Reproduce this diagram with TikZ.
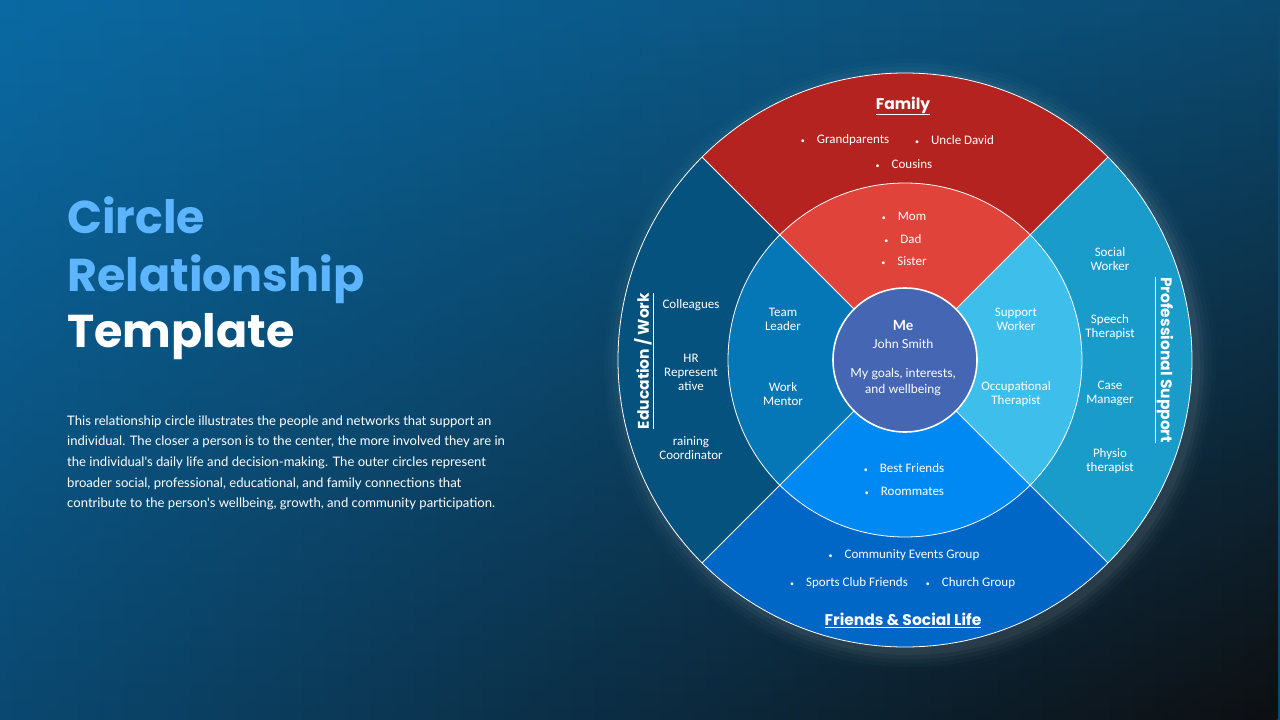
\documentclass[tikz,border=0pt]{standalone}
\usepackage{fontspec}
\setmainfont{Carlito}
\newfontfamily\lato{Lato}
\newfontfamily\pop{Poppins}
\usetikzlibrary{calc,fadings}
\definecolor{bgTL}{HTML}{0A6AA3}
\definecolor{bgTR}{HTML}{0B4A70}
\definecolor{bgBL}{HTML}{0B4870}
\definecolor{bgBR}{HTML}{0E0F11}
\definecolor{famO}{HTML}{B52320}
\definecolor{famI}{HTML}{E0433A}
\definecolor{proO}{HTML}{1A9CCB}
\definecolor{proI}{HTML}{3EBEEA}
\definecolor{friO}{HTML}{0067C7}
\definecolor{friI}{HTML}{0089F2}
\definecolor{eduO}{HTML}{05527F}
\definecolor{eduI}{HTML}{0677B6}
\definecolor{cen}{HTML}{4466B3}
\definecolor{ttl}{HTML}{5DB4FF}
\newcommand\bl{{\fontsize{8}{8}\selectfont\textbullet}\hspace{12pt}}
\begin{document}
\begin{tikzpicture}[x=1pt,y=1pt,
  item/.style={text=white,font=\fontsize{13}{14}\selectfont,align=center,inner sep=0pt},
  head/.style={text=white,font=\pop\bfseries\fontsize{15.5}{18}\selectfont,inner sep=0pt},
  ttlA/.style={text=ttl,font=\pop\bfseries\fontsize{46}{50}\selectfont,anchor=base west,inner sep=0pt},
  body/.style={text=white,font=\lato\fontsize{13.1}{15}\selectfont,anchor=base west,inner sep=0pt},
  sep/.style={draw=white,line width=0.8pt}]
\useasboundingbox (0,0) rectangle (1280,-720);
% background: bilinear gradient (top row, then bottom row faded in)
\shade[left color=bgTL,right color=bgTR] (0,0) rectangle (1280,-720);
\shade[left color=bgBL,right color=bgBR,path fading=north] (0,0) rectangle (1280,-720);
\coordinate (C) at (905,-360);
\def\Ro{287}\def\Ri{177}\def\Rc{72}
% soft halo
\foreach \r/\o in {306/0.012,302/0.018,298/0.025,294/0.035,290/0.045}
  \fill[white,opacity=\o] ($(C)+(5,-5)$) circle (\r);
% outer wedges
\fill[famO] (C) -- ++(45:\Ro) arc[start angle=45,end angle=135,radius=\Ro] -- cycle;
\fill[eduO] (C) -- ++(135:\Ro) arc[start angle=135,end angle=225,radius=\Ro] -- cycle;
\fill[friO] (C) -- ++(225:\Ro) arc[start angle=225,end angle=315,radius=\Ro] -- cycle;
\fill[proO] (C) -- ++(-45:\Ro) arc[start angle=-45,end angle=45,radius=\Ro] -- cycle;
% inner wedges
\fill[famI] (C) -- ++(45:\Ri) arc[start angle=45,end angle=135,radius=\Ri] -- cycle;
\fill[eduI] (C) -- ++(135:\Ri) arc[start angle=135,end angle=225,radius=\Ri] -- cycle;
\fill[friI] (C) -- ++(225:\Ri) arc[start angle=225,end angle=315,radius=\Ri] -- cycle;
\fill[proI] (C) -- ++(-45:\Ri) arc[start angle=-45,end angle=45,radius=\Ri] -- cycle;
% borders
\draw[sep] (C) circle (\Ro);
\draw[sep] (C) circle (\Ri);
\draw[sep] ($(C)+(45:\Ro)$) -- ($(C)+(225:\Ro)$);
\draw[sep] ($(C)+(135:\Ro)$) -- ($(C)+(-45:\Ro)$);
% center
\node[circle,fill=cen,draw=white,line width=1.6pt,minimum size=144pt,inner sep=0pt] (me) at (C) {};
\node[text=white,font=\lato\bfseries\fontsize{14}{16}\selectfont,inner sep=0pt] (meT) at (903,-325) {Me};
\node[text=white,font=\lato\fontsize{12.5}{16}\selectfont,inner sep=0pt] (meN) at (903,-344) {John Smith};
\node[text=white,font=\lato\fontsize{12.5}{16}\selectfont,align=center,inner sep=0pt] (meG) at (903,-382) {My goals, interests,\\and wellbeing};
% family
\node[head] (famH) at (903,-106) {\underline{Family}};
\node[item] (gp) at (845,-140) {\bl Grandparents};
\node[item] (ud) at (954.5,-140) {\bl Uncle David};
\node[item] (co) at (904,-164) {\bl Cousins};
\node[item] (mom) at (904,-216) {\bl Mom};
\node[item] (dad) at (903,-239) {\bl Dad};
\node[item] (sis) at (904,-261) {\bl Sister};
% education
\node[head,rotate=90] (eduH) at (644,-361) {\underline{Education / Work}};
\node[item] (col) at (691,-305) {Colleagues};
\node[item] (hr) at (691,-372) {HR\\Represent\\ative};
\node[item] (tr) at (691,-448) {raining\\Coordinator};
\node[item] (tl) at (783,-319) {Team\\Leader};
\node[item] (wm) at (783,-394) {Work\\Mentor};
% professional
\node[head,rotate=-90] (proH) at (1164,-360) {\underline{Professional Support}};
\node[item] (sw) at (1016,-319) {Support\\Worker};
\node[item] (ot) at (1016,-394) {Occupational\\Therapist};
\node[item] (sow) at (1110,-259) {Social\\Worker};
\node[item] (st) at (1110,-327) {Speech\\Therapist};
\node[item] (cm) at (1110,-393) {Case\\Manager};
\node[item] (pt) at (1110,-461) {Physio\\therapist};
% friends
\node[item] (bf) at (904,-468) {\bl Best Friends};
\node[item] (rm) at (904.5,-491) {\bl Roommates};
\node[item] (ceg) at (904,-555) {\bl Community Events Group};
\node[item] (scf) at (849,-583) {\bl Sports Club Friends};
\node[item] (cg) at (970.5,-583) {\bl Church Group};
\node[head] (friH) at (903,-620) {\underline{Friends \& Social Life}};
% title
\node[ttlA] (t1) at (67,-233) {Circle};
\node[ttlA] (t2) at (67,-291) {Relationship};
\node[ttlA,text=white] (t3) at (67,-347) {Template};
% body
\node[body] (b1) at (67,-425) {This relationship circle illustrates the people and networks that support an};
\node[body] (b2) at (67,-445.7) {individual. The closer a person is to the center, the more involved they are in};
\node[body] (b3) at (67,-466.4) {the individual's daily life and decision-making. The outer circles represent};
\node[body] (b4) at (67,-487.1) {broader social, professional, educational, and family connections that};
\node[body] (b5) at (67,-507.8) {contribute to the person's wellbeing, growth, and community participation.};
\end{tikzpicture}
\end{document}
